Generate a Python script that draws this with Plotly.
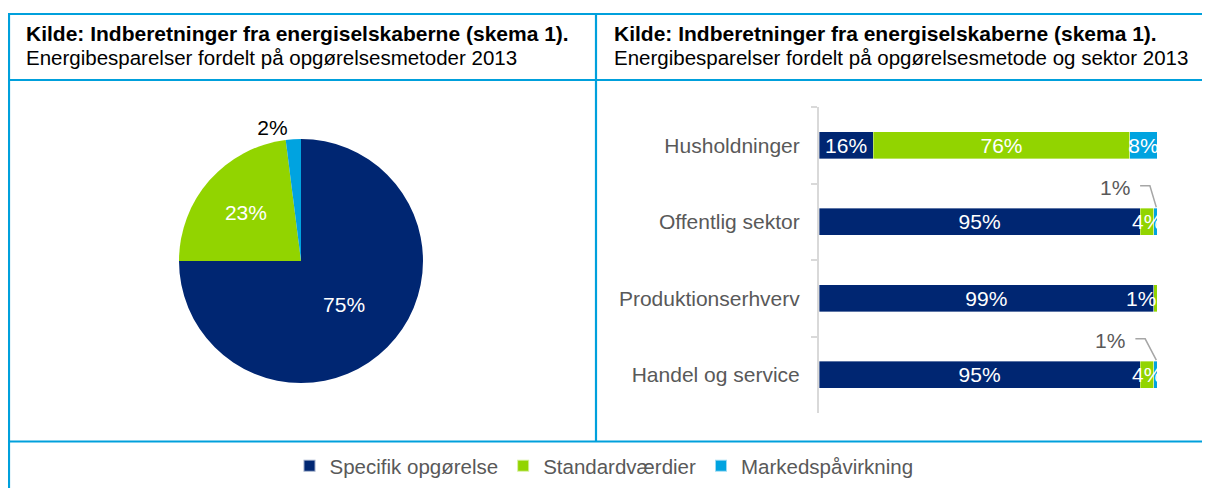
import plotly.graph_objects as go

# ---------------- data ----------------
methods = ["Specifik opgørelse", "Standardværdier", "Markedspåvirkning"]
colors = ["#002672", "#92D400", "#00A3E0"]
pie_values = [75, 23, 2]

sectors = ["Husholdninger", "Offentlig sektor", "Produktionserhverv", "Handel og service"]
specifik = [16, 95, 99, 95]
standard = [76, 4, 1, 4]
marked = [8, 1, 0, 1]

title_bold = "Kilde: Indberetninger fra energiselskaberne (skema 1)."
title_left = "Energibesparelser fordelt på opgørelsesmetoder 2013"
title_right = "Energibesparelser fordelt på opgørelsesmetode og sektor 2013"

# ---------------- layout helpers ----------------
OFF = 8                      # page body margin in the browser
W, H = 1210 - OFF, 488 - OFF
BORDER = "#00A0DC"
GRAY = "#595959"
FONT = "Liberation Sans, Arial, sans-serif"


def px(x):                   # screen x -> paper x
    return (x - OFF) / W


def py(y):                   # screen y -> paper y
    return 1 - (y - OFF) / H


fig = go.Figure()

# pie
fig.add_trace(go.Pie(
    labels=methods, values=pie_values, sort=False, direction="clockwise",
    rotation=0, marker=dict(colors=colors, line=dict(width=0)),
    texttemplate="%{value}%", textposition=["inside", "inside", "outside"],
    insidetextorientation="horizontal",
    textfont=dict(size=21, family=FONT, color=["white", "white", "black"]),
    domain=dict(x=[px(179), px(423)], y=[py(383), py(139)]),
    showlegend=False, hoverinfo="label+value",
))

# stacked bars
series = [specifik, standard, marked]
for k, (name, vals, col) in enumerate(zip(methods, series, colors)):
    if k == 1:
        txt = [f"{v}%" if v >= 5 else "" for v in vals]
    else:
        txt = [f"{v}%" if v >= 2 else "" for v in vals]
    fig.add_trace(go.Bar(
        y=sectors, x=vals, orientation="h", name=name,
        marker=dict(color=col, line=dict(color="rgba(255,255,255,0.6)", width=0.6)),
        text=txt, textposition="inside", insidetextanchor="middle",
        textangle=0, constraintext="none", cliponaxis=False,
        textfont=dict(color="white", size=21, family=FONT),
        xaxis="x", yaxis="y", hoverinfo="name+x",
    ))

totals = [a + b + c for a, b, c in zip(specifik, standard, marked)]

# small Standardværdier shares: white labels drawn on top of the bars
for i, v in enumerate(standard):
    if 0 < v < 2:
        fig.add_annotation(
            x=specifik[i] + v, y=i, xref="x", yref="y", text=f"{v}%",
            showarrow=False, xanchor="right", yanchor="middle", xshift=1,
            font=dict(size=21, color="white", family=FONT),
        )
    elif 2 <= v < 5:
        fig.add_annotation(
            x=specifik[i] + v / 2, y=i, xref="x", yref="y", text=f"{v}%",
            showarrow=False, xanchor="center", yanchor="middle",
            font=dict(size=21, color="white", family=FONT),
        )

# call-out labels for the tiny Markedspåvirkning shares
for i, v in enumerate(marked):
    if 0 < v < 2:
        off = 0.0 if i == 1 else -1.4
        fig.add_annotation(
            x=92.6 + off, y=i - 0.45, xref="x", yref="y", text=f"{v}%",
            showarrow=False, xanchor="right", yanchor="middle",
            font=dict(size=21, color=GRAY, family=FONT),
        )
        fig.add_shape(
            type="path", xref="x", yref="y",
            path=f"M {95 + off},{i - 0.47} L {97.9 + off},{i - 0.47} L {totals[i] - 0.2},{i - 0.19}",
            line=dict(color="#A6A6A6", width=1.5),
        )

fig.update_layout(
    width=W, height=H, autosize=False,
    margin=dict(l=0, r=0, t=0, b=0),
    paper_bgcolor="white", plot_bgcolor="white",
    barmode="stack", bargap=0.645,
    font=dict(family=FONT, color=GRAY),
    xaxis=dict(domain=[px(819), px(1157)], range=[0, 100], visible=False,
               fixedrange=True),
    yaxis=dict(domain=[py(413), py(107)], categoryorder="array",
               categoryarray=sectors, autorange="reversed",
               showline=True, linecolor="#D9D9D9", linewidth=2,
               ticks="outside", tickson="boundaries", ticklen=6,
               tickcolor="#D9D9D9", tickwidth=1.5, showgrid=False,
               ticklabelstandoff=13,
               tickfont=dict(size=21, color=GRAY, family=FONT)),
    legend=dict(orientation="h", x=px(604), xanchor="center", y=py(466),
                yanchor="middle", traceorder="normal",
                font=dict(size=20.5, color=GRAY, family=FONT),
                itemwidth=30, itemsizing="constant", tracegroupgap=0),
    showlegend=True,
)

# headers
for x0, sub in [(24, title_left), (612, title_right)]:
    fig.add_annotation(x=px(x0), y=py(33), xref="paper", yref="paper",
                       text=f"<b>{title_bold}</b>", showarrow=False,
                       xanchor="left", yanchor="middle",
                       font=dict(size=21, color="black", family=FONT))
    fig.add_annotation(x=px(x0), y=py(58), xref="paper", yref="paper",
                       text=sub, showarrow=False,
                       xanchor="left", yanchor="middle",
                       font=dict(size=20.5, color="black", family=FONT))

# frame lines
lines = [
    (8, 14, 1210, 14), (8, 80, 1210, 80), (8, 441.5, 1210, 441.5),
    (9, 14, 9, 488), (596, 14, 596, 441.5),
]
for x0, y0, x1, y1 in lines:
    fig.add_shape(type="line", xref="paper", yref="paper",
                  x0=px(x0), y0=py(y0), x1=px(x1), y1=py(y1),
                  line=dict(color=BORDER, width=2.2), layer="above")

fig.write_html("out.html")
